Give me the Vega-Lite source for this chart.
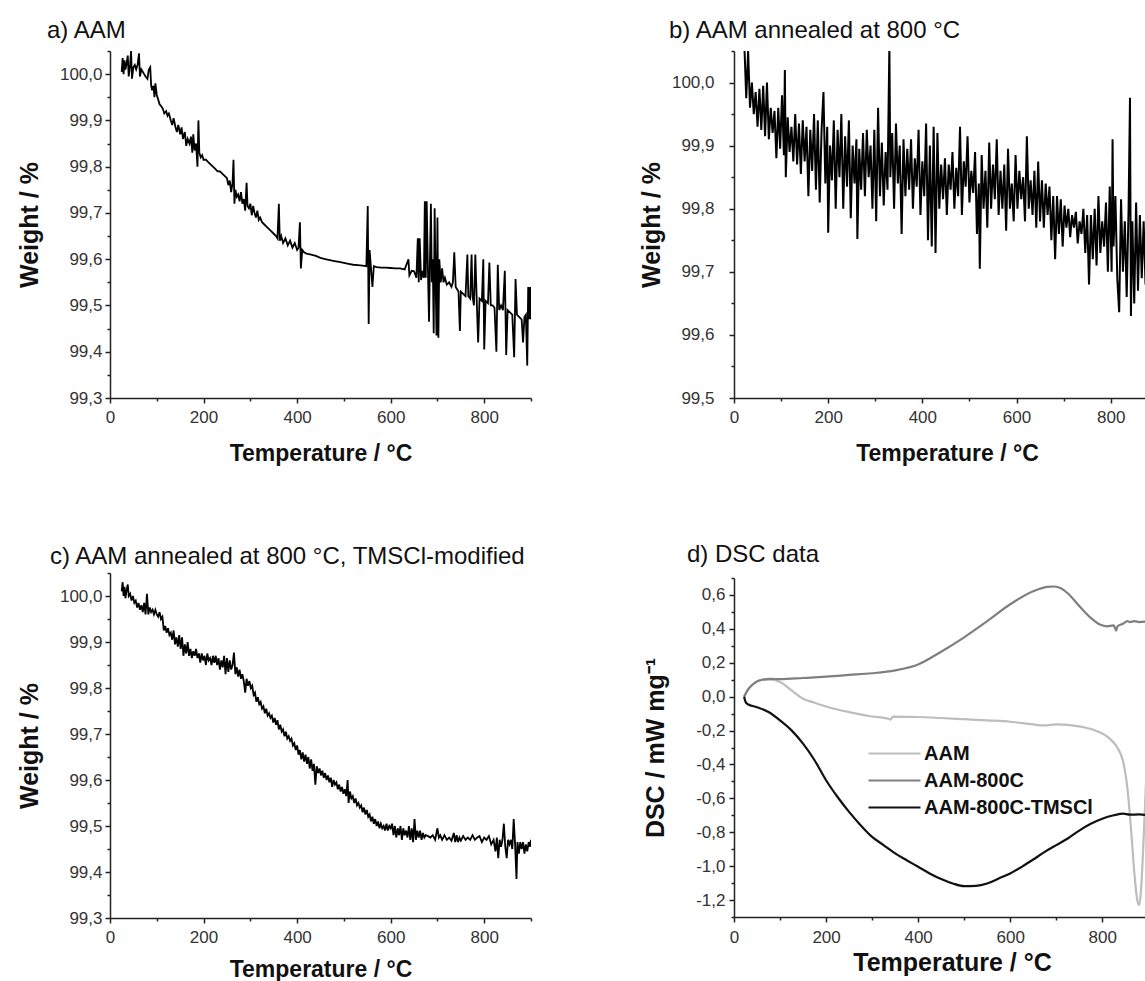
{
  "$schema": "https://vega.github.io/schema/vega-lite/v6.json",
  "padding": {"left": 17, "top": 19, "right": 0, "bottom": 0},
  "background": "white",
  "usermeta": {"embedOptions": {"actions": false}},
  "config": {
    "view": {"stroke": null},
    "font": "Liberation Sans",
    "axis": {"grid": false, "domainColor": "#222", "domainWidth": 1.5, "tickColor": "#222", "tickWidth": 1.5, "labelColor": "#333", "labelFont": "Liberation Sans", "labelFontSize": 17, "titleFont": "Liberation Sans", "titleFontWeight": "bold", "titleColor": "#111", "labelFlush": false, "labelOverlap": false},
    "title": {"font": "Liberation Sans", "fontSize": 24, "fontWeight": "normal", "color": "#111", "anchor": "start", "frame": "group"}
  },
  "datasets": {
    "a": [
      {"t":25,"w":100.005},{"t":27,"w":100.035},{"t":29,"w":100.0},{"t":31,"w":100.03},{"t":33,"w":100.01},{"t":35,"w":100.02},{"t":38,"w":100.04},{"t":40,"w":99.995},{"t":43,"w":100.02},{"t":45,"w":100.05},{"t":47,"w":99.99},{"t":50,"w":100.015},{"t":53,"w":100.02},{"t":56,"w":100.01},{"t":59,"w":100.02},{"t":62,"w":100.045},{"t":64,"w":99.995},{"t":67,"w":100.01},{"t":70,"w":100.005},{"t":73,"w":100.0},{"t":76,"w":99.995},{"t":80,"w":99.99},{"t":83,"w":100.01},{"t":86,"w":100.015},{"t":88,"w":99.975},{"t":90,"w":99.965},{"t":93,"w":99.975},{"t":95,"w":99.95},{"t":97,"w":99.98},{"t":100,"w":99.955},{"t":103,"w":99.945},{"t":106,"w":99.935},{"t":110,"w":99.93},{"t":113,"w":99.925},{"t":116,"w":99.915},{"t":120,"w":99.92},{"t":123,"w":99.91},{"t":126,"w":99.915},{"t":130,"w":99.9},{"t":133,"w":99.89},{"t":136,"w":99.905},{"t":140,"w":99.885},{"t":143,"w":99.875},{"t":146,"w":99.89},{"t":150,"w":99.87},{"t":153,"w":99.885},{"t":156,"w":99.86},{"t":160,"w":99.875},{"t":163,"w":99.845},{"t":166,"w":99.86},{"t":170,"w":99.85},{"t":173,"w":99.865},{"t":176,"w":99.83},{"t":178,"w":99.87},{"t":181,"w":99.835},{"t":184,"w":99.85},{"t":187,"w":99.8},{"t":189,"w":99.9},{"t":191,"w":99.83},{"t":194,"w":99.82},{"t":197,"w":99.825},{"t":200,"w":99.815},{"t":205,"w":99.815},{"t":210,"w":99.81},{"t":215,"w":99.805},{"t":220,"w":99.8},{"t":225,"w":99.795},{"t":230,"w":99.79},{"t":235,"w":99.79},{"t":240,"w":99.785},{"t":245,"w":99.78},{"t":250,"w":99.775},{"t":253,"w":99.76},{"t":256,"w":99.77},{"t":259,"w":99.745},{"t":262,"w":99.765},{"t":264,"w":99.815},{"t":266,"w":99.72},{"t":268,"w":99.75},{"t":271,"w":99.735},{"t":274,"w":99.74},{"t":277,"w":99.725},{"t":280,"w":99.745},{"t":283,"w":99.72},{"t":286,"w":99.73},{"t":289,"w":99.705},{"t":292,"w":99.765},{"t":294,"w":99.715},{"t":297,"w":99.71},{"t":300,"w":99.72},{"t":303,"w":99.695},{"t":306,"w":99.715},{"t":309,"w":99.7},{"t":312,"w":99.69},{"t":315,"w":99.705},{"t":318,"w":99.685},{"t":321,"w":99.69},{"t":325,"w":99.68},{"t":330,"w":99.675},{"t":335,"w":99.67},{"t":340,"w":99.665},{"t":345,"w":99.66},{"t":350,"w":99.655},{"t":355,"w":99.65},{"t":358,"w":99.645},{"t":361,"w":99.72},{"t":363,"w":99.64},{"t":366,"w":99.65},{"t":370,"w":99.635},{"t":375,"w":99.645},{"t":380,"w":99.63},{"t":385,"w":99.64},{"t":390,"w":99.625},{"t":395,"w":99.635},{"t":400,"w":99.62},{"t":403,"w":99.625},{"t":406,"w":99.68},{"t":408,"w":99.58},{"t":411,"w":99.62},{"t":415,"w":99.615},{"t":420,"w":99.612},{"t":430,"w":99.61},{"t":440,"w":99.607},{"t":450,"w":99.603},{"t":460,"w":99.6},{"t":470,"w":99.598},{"t":480,"w":99.596},{"t":490,"w":99.594},{"t":500,"w":99.592},{"t":510,"w":99.59},{"t":520,"w":99.588},{"t":530,"w":99.587},{"t":540,"w":99.586},{"t":548,"w":99.585},{"t":551,"w":99.715},{"t":553,"w":99.46},{"t":555,"w":99.62},{"t":558,"w":99.58},{"t":561,"w":99.54},{"t":564,"w":99.585},{"t":570,"w":99.583},{"t":580,"w":99.582},{"t":590,"w":99.582},{"t":600,"w":99.581},{"t":610,"w":99.58},{"t":620,"w":99.58},{"t":630,"w":99.578},{"t":638,"w":99.6},{"t":640,"w":99.565},{"t":645,"w":99.575},{"t":650,"w":99.574},{"t":655,"w":99.56},{"t":658,"w":99.645},{"t":660,"w":99.55},{"t":662,"w":99.645},{"t":665,"w":99.555},{"t":668,"w":99.575},{"t":671,"w":99.56},{"t":673,"w":99.725},{"t":675,"w":99.56},{"t":677,"w":99.725},{"t":680,"w":99.56},{"t":682,"w":99.465},{"t":684,"w":99.6},{"t":686,"w":99.72},{"t":688,"w":99.55},{"t":690,"w":99.6},{"t":692,"w":99.44},{"t":694,"w":99.71},{"t":696,"w":99.56},{"t":698,"w":99.435},{"t":700,"w":99.69},{"t":702,"w":99.43},{"t":704,"w":99.6},{"t":707,"w":99.55},{"t":710,"w":99.58},{"t":713,"w":99.55},{"t":716,"w":99.56},{"t":720,"w":99.545},{"t":725,"w":99.55},{"t":730,"w":99.54},{"t":733,"w":99.55},{"t":736,"w":99.615},{"t":739,"w":99.54},{"t":742,"w":99.535},{"t":745,"w":99.53},{"t":748,"w":99.445},{"t":750,"w":99.53},{"t":755,"w":99.525},{"t":760,"w":99.52},{"t":764,"w":99.61},{"t":766,"w":99.52},{"t":770,"w":99.515},{"t":773,"w":99.61},{"t":775,"w":99.52},{"t":778,"w":99.5},{"t":781,"w":99.61},{"t":784,"w":99.51},{"t":787,"w":99.42},{"t":790,"w":99.515},{"t":795,"w":99.51},{"t":798,"w":99.6},{"t":800,"w":99.405},{"t":803,"w":99.51},{"t":808,"w":99.505},{"t":811,"w":99.593},{"t":814,"w":99.5},{"t":818,"w":99.5},{"t":822,"w":99.495},{"t":826,"w":99.4},{"t":829,"w":99.588},{"t":832,"w":99.49},{"t":836,"w":99.5},{"t":840,"w":99.49},{"t":844,"w":99.575},{"t":847,"w":99.393},{"t":850,"w":99.49},{"t":855,"w":99.485},{"t":860,"w":99.48},{"t":864,"w":99.388},{"t":867,"w":99.557},{"t":870,"w":99.48},{"t":875,"w":99.475},{"t":880,"w":99.47},{"t":883,"w":99.42},{"t":886,"w":99.475},{"t":889,"w":99.48},{"t":892,"w":99.37},{"t":894,"w":99.54},{"t":896,"w":99.47},{"t":898,"w":99.54},{"t":900,"w":99.47}
    ],
    "b": [
      {"t":22,"w":100.06},{"t":26,"w":99.975},{"t":30,"w":100.05},{"t":34,"w":99.96},{"t":38,"w":100.0},{"t":42,"w":99.95},{"t":46,"w":99.985},{"t":50,"w":99.93},{"t":54,"w":99.99},{"t":58,"w":99.925},{"t":62,"w":99.995},{"t":66,"w":99.915},{"t":70,"w":100.0},{"t":74,"w":99.91},{"t":78,"w":99.96},{"t":82,"w":99.92},{"t":86,"w":99.955},{"t":90,"w":99.88},{"t":94,"w":99.96},{"t":98,"w":99.895},{"t":102,"w":99.98},{"t":106,"w":99.885},{"t":108,"w":100.02},{"t":110,"w":99.85},{"t":114,"w":99.945},{"t":118,"w":99.89},{"t":122,"w":99.93},{"t":126,"w":99.875},{"t":130,"w":99.95},{"t":134,"w":99.87},{"t":138,"w":99.935},{"t":142,"w":99.855},{"t":146,"w":99.94},{"t":150,"w":99.875},{"t":154,"w":99.93},{"t":158,"w":99.82},{"t":162,"w":99.925},{"t":166,"w":99.86},{"t":170,"w":99.95},{"t":174,"w":99.83},{"t":178,"w":99.94},{"t":182,"w":99.81},{"t":186,"w":99.925},{"t":190,"w":99.985},{"t":194,"w":99.84},{"t":198,"w":99.93},{"t":200,"w":99.762},{"t":204,"w":99.9},{"t":208,"w":99.845},{"t":212,"w":99.94},{"t":216,"w":99.8},{"t":220,"w":99.925},{"t":224,"w":99.85},{"t":228,"w":99.95},{"t":232,"w":99.8},{"t":236,"w":99.915},{"t":240,"w":99.835},{"t":244,"w":99.94},{"t":248,"w":99.785},{"t":252,"w":99.9},{"t":256,"w":99.84},{"t":260,"w":99.91},{"t":262,"w":99.752},{"t":266,"w":99.895},{"t":270,"w":99.83},{"t":274,"w":99.92},{"t":278,"w":99.82},{"t":282,"w":99.925},{"t":286,"w":99.85},{"t":290,"w":99.9},{"t":294,"w":99.8},{"t":298,"w":99.925},{"t":302,"w":99.78},{"t":306,"w":99.96},{"t":310,"w":99.82},{"t":314,"w":99.905},{"t":318,"w":99.805},{"t":322,"w":99.89},{"t":326,"w":99.83},{"t":330,"w":100.06},{"t":332,"w":99.85},{"t":336,"w":99.92},{"t":340,"w":99.8},{"t":344,"w":99.935},{"t":348,"w":99.84},{"t":352,"w":99.9},{"t":356,"w":99.76},{"t":360,"w":99.91},{"t":364,"w":99.82},{"t":368,"w":99.895},{"t":372,"w":99.83},{"t":376,"w":99.91},{"t":380,"w":99.8},{"t":384,"w":99.88},{"t":388,"w":99.835},{"t":392,"w":99.925},{"t":396,"w":99.79},{"t":400,"w":99.875},{"t":404,"w":99.82},{"t":408,"w":99.935},{"t":412,"w":99.75},{"t":416,"w":99.9},{"t":420,"w":99.74},{"t":424,"w":99.93},{"t":428,"w":99.73},{"t":432,"w":99.92},{"t":436,"w":99.8},{"t":440,"w":99.87},{"t":444,"w":99.815},{"t":448,"w":99.88},{"t":452,"w":99.79},{"t":456,"w":99.87},{"t":460,"w":99.83},{"t":464,"w":99.89},{"t":468,"w":99.8},{"t":472,"w":99.865},{"t":476,"w":99.82},{"t":480,"w":99.93},{"t":484,"w":99.79},{"t":488,"w":99.875},{"t":492,"w":99.835},{"t":496,"w":99.915},{"t":500,"w":99.81},{"t":504,"w":99.86},{"t":508,"w":99.825},{"t":512,"w":99.89},{"t":516,"w":99.76},{"t":520,"w":99.84},{"t":522,"w":99.705},{"t":526,"w":99.885},{"t":530,"w":99.8},{"t":534,"w":99.86},{"t":538,"w":99.77},{"t":542,"w":99.905},{"t":546,"w":99.8},{"t":550,"w":99.87},{"t":554,"w":99.815},{"t":558,"w":99.91},{"t":562,"w":99.79},{"t":566,"w":99.86},{"t":570,"w":99.8},{"t":574,"w":99.87},{"t":578,"w":99.765},{"t":582,"w":99.895},{"t":586,"w":99.8},{"t":590,"w":99.84},{"t":594,"w":99.78},{"t":598,"w":99.885},{"t":602,"w":99.8},{"t":606,"w":99.86},{"t":610,"w":99.815},{"t":614,"w":99.85},{"t":618,"w":99.78},{"t":622,"w":99.915},{"t":626,"w":99.8},{"t":630,"w":99.845},{"t":634,"w":99.79},{"t":638,"w":99.86},{"t":642,"w":99.77},{"t":646,"w":99.875},{"t":650,"w":99.78},{"t":654,"w":99.845},{"t":658,"w":99.77},{"t":662,"w":99.84},{"t":666,"w":99.79},{"t":670,"w":99.835},{"t":674,"w":99.75},{"t":678,"w":99.82},{"t":682,"w":99.72},{"t":686,"w":99.82},{"t":690,"w":99.76},{"t":694,"w":99.815},{"t":698,"w":99.74},{"t":702,"w":99.805},{"t":706,"w":99.77},{"t":710,"w":99.8},{"t":714,"w":99.755},{"t":718,"w":99.79},{"t":722,"w":99.77},{"t":726,"w":99.795},{"t":730,"w":99.745},{"t":734,"w":99.78},{"t":738,"w":99.76},{"t":742,"w":99.8},{"t":746,"w":99.73},{"t":750,"w":99.79},{"t":754,"w":99.68},{"t":758,"w":99.79},{"t":762,"w":99.72},{"t":766,"w":99.8},{"t":770,"w":99.71},{"t":774,"w":99.82},{"t":778,"w":99.73},{"t":782,"w":99.78},{"t":786,"w":99.74},{"t":790,"w":99.81},{"t":794,"w":99.7},{"t":798,"w":99.835},{"t":802,"w":99.7},{"t":804,"w":99.91},{"t":806,"w":99.74},{"t":810,"w":99.82},{"t":814,"w":99.69},{"t":818,"w":99.636},{"t":822,"w":99.815},{"t":826,"w":99.7},{"t":830,"w":99.78},{"t":834,"w":99.66},{"t":838,"w":99.8},{"t":841,"w":99.976},{"t":843,"w":99.63},{"t":846,"w":99.78},{"t":850,"w":99.65},{"t":854,"w":99.81},{"t":858,"w":99.67},{"t":862,"w":99.79},{"t":866,"w":99.69},{"t":870,"w":99.78},{"t":874,"w":99.68},{"t":878,"w":99.76},{"t":882,"w":99.67},{"t":886,"w":99.79},{"t":890,"w":99.7},{"t":894,"w":99.91},{"t":897,"w":99.66},{"t":900,"w":99.74}
    ],
    "c": [
      {"t":25,"w":100.01},{"t":27,"w":100.03},{"t":29,"w":100.0},{"t":31,"w":100.02},{"t":33,"w":99.995},{"t":35,"w":100.01},{"t":38,"w":100.025},{"t":40,"w":100.0},{"t":43,"w":100.005},{"t":46,"w":99.99},{"t":49,"w":100.0},{"t":52,"w":99.985},{"t":55,"w":99.99},{"t":58,"w":99.975},{"t":61,"w":99.985},{"t":64,"w":99.97},{"t":67,"w":99.98},{"t":70,"w":99.965},{"t":73,"w":99.985},{"t":76,"w":99.96},{"t":79,"w":100.005},{"t":82,"w":99.96},{"t":85,"w":99.975},{"t":88,"w":99.965},{"t":91,"w":99.97},{"t":94,"w":99.96},{"t":97,"w":99.97},{"t":100,"w":99.96},{"t":103,"w":99.955},{"t":106,"w":99.965},{"t":109,"w":99.95},{"t":112,"w":99.955},{"t":115,"w":99.925},{"t":118,"w":99.935},{"t":121,"w":99.92},{"t":124,"w":99.93},{"t":127,"w":99.915},{"t":130,"w":99.92},{"t":133,"w":99.905},{"t":136,"w":99.925},{"t":139,"w":99.895},{"t":142,"w":99.91},{"t":145,"w":99.89},{"t":148,"w":99.915},{"t":151,"w":99.885},{"t":154,"w":99.91},{"t":157,"w":99.87},{"t":160,"w":99.895},{"t":163,"w":99.875},{"t":166,"w":99.9},{"t":169,"w":99.87},{"t":172,"w":99.885},{"t":175,"w":99.865},{"t":178,"w":99.88},{"t":181,"w":99.87},{"t":184,"w":99.885},{"t":187,"w":99.865},{"t":190,"w":99.875},{"t":193,"w":99.855},{"t":196,"w":99.875},{"t":199,"w":99.86},{"t":202,"w":99.87},{"t":205,"w":99.85},{"t":208,"w":99.875},{"t":211,"w":99.86},{"t":214,"w":99.865},{"t":217,"w":99.85},{"t":220,"w":99.87},{"t":223,"w":99.855},{"t":226,"w":99.87},{"t":229,"w":99.85},{"t":232,"w":99.865},{"t":235,"w":99.84},{"t":238,"w":99.86},{"t":241,"w":99.845},{"t":244,"w":99.87},{"t":247,"w":99.83},{"t":250,"w":99.865},{"t":253,"w":99.835},{"t":256,"w":99.86},{"t":259,"w":99.84},{"t":262,"w":99.85},{"t":265,"w":99.877},{"t":268,"w":99.83},{"t":271,"w":99.845},{"t":274,"w":99.825},{"t":277,"w":99.84},{"t":280,"w":99.82},{"t":283,"w":99.83},{"t":286,"w":99.815},{"t":289,"w":99.79},{"t":292,"w":99.82},{"t":295,"w":99.805},{"t":298,"w":99.815},{"t":301,"w":99.8},{"t":304,"w":99.805},{"t":307,"w":99.785},{"t":310,"w":99.79},{"t":313,"w":99.77},{"t":316,"w":99.78},{"t":319,"w":99.765},{"t":322,"w":99.77},{"t":325,"w":99.755},{"t":328,"w":99.76},{"t":331,"w":99.745},{"t":334,"w":99.755},{"t":337,"w":99.74},{"t":340,"w":99.745},{"t":343,"w":99.735},{"t":346,"w":99.74},{"t":349,"w":99.725},{"t":352,"w":99.735},{"t":355,"w":99.72},{"t":358,"w":99.73},{"t":361,"w":99.71},{"t":364,"w":99.72},{"t":367,"w":99.705},{"t":370,"w":99.71},{"t":373,"w":99.695},{"t":376,"w":99.705},{"t":379,"w":99.69},{"t":382,"w":99.695},{"t":385,"w":99.685},{"t":388,"w":99.69},{"t":391,"w":99.675},{"t":394,"w":99.68},{"t":397,"w":99.665},{"t":400,"w":99.675},{"t":403,"w":99.655},{"t":406,"w":99.665},{"t":409,"w":99.645},{"t":412,"w":99.66},{"t":415,"w":99.64},{"t":418,"w":99.655},{"t":421,"w":99.635},{"t":424,"w":99.65},{"t":427,"w":99.625},{"t":430,"w":99.645},{"t":433,"w":99.62},{"t":436,"w":99.635},{"t":439,"w":99.59},{"t":442,"w":99.63},{"t":445,"w":99.615},{"t":448,"w":99.625},{"t":451,"w":99.61},{"t":454,"w":99.62},{"t":457,"w":99.605},{"t":460,"w":99.615},{"t":463,"w":99.6},{"t":466,"w":99.61},{"t":469,"w":99.595},{"t":472,"w":99.605},{"t":475,"w":99.585},{"t":478,"w":99.6},{"t":481,"w":99.59},{"t":484,"w":99.595},{"t":487,"w":99.58},{"t":490,"w":99.59},{"t":493,"w":99.575},{"t":496,"w":99.585},{"t":499,"w":99.57},{"t":502,"w":99.58},{"t":505,"w":99.565},{"t":508,"w":99.6},{"t":510,"w":99.55},{"t":513,"w":99.575},{"t":516,"w":99.56},{"t":519,"w":99.565},{"t":522,"w":99.55},{"t":525,"w":99.56},{"t":528,"w":99.545},{"t":531,"w":99.55},{"t":534,"w":99.54},{"t":537,"w":99.545},{"t":540,"w":99.53},{"t":543,"w":99.54},{"t":546,"w":99.525},{"t":549,"w":99.535},{"t":552,"w":99.52},{"t":555,"w":99.525},{"t":558,"w":99.51},{"t":561,"w":99.52},{"t":564,"w":99.505},{"t":567,"w":99.515},{"t":570,"w":99.5},{"t":573,"w":99.51},{"t":576,"w":99.495},{"t":579,"w":99.505},{"t":582,"w":99.495},{"t":585,"w":99.5},{"t":588,"w":99.49},{"t":591,"w":99.505},{"t":594,"w":99.49},{"t":597,"w":99.5},{"t":600,"w":99.495},{"t":603,"w":99.505},{"t":606,"w":99.48},{"t":609,"w":99.5},{"t":612,"w":99.475},{"t":615,"w":99.495},{"t":618,"w":99.48},{"t":621,"w":99.5},{"t":624,"w":99.47},{"t":627,"w":99.495},{"t":630,"w":99.48},{"t":633,"w":99.49},{"t":636,"w":99.475},{"t":639,"w":99.5},{"t":642,"w":99.47},{"t":645,"w":99.495},{"t":648,"w":99.465},{"t":651,"w":99.515},{"t":654,"w":99.47},{"t":657,"w":99.49},{"t":660,"w":99.475},{"t":663,"w":99.49},{"t":666,"w":99.47},{"t":669,"w":99.485},{"t":672,"w":99.475},{"t":675,"w":99.48},{"t":680,"w":99.478},{"t":685,"w":99.475},{"t":690,"w":99.48},{"t":695,"w":99.47},{"t":700,"w":99.495},{"t":703,"w":99.475},{"t":706,"w":99.48},{"t":710,"w":99.47},{"t":715,"w":99.48},{"t":720,"w":99.47},{"t":725,"w":99.475},{"t":730,"w":99.468},{"t":735,"w":99.485},{"t":738,"w":99.465},{"t":741,"w":99.48},{"t":744,"w":99.465},{"t":747,"w":99.475},{"t":750,"w":99.468},{"t":755,"w":99.478},{"t":760,"w":99.47},{"t":765,"w":99.475},{"t":770,"w":99.47},{"t":775,"w":99.48},{"t":780,"w":99.47},{"t":785,"w":99.475},{"t":790,"w":99.478},{"t":795,"w":99.465},{"t":800,"w":99.475},{"t":805,"w":99.47},{"t":810,"w":99.478},{"t":815,"w":99.46},{"t":820,"w":99.47},{"t":824,"w":99.445},{"t":827,"w":99.475},{"t":830,"w":99.43},{"t":833,"w":99.47},{"t":836,"w":99.455},{"t":839,"w":99.47},{"t":842,"w":99.505},{"t":845,"w":99.455},{"t":848,"w":99.43},{"t":851,"w":99.47},{"t":854,"w":99.46},{"t":857,"w":99.47},{"t":860,"w":99.45},{"t":863,"w":99.515},{"t":866,"w":99.46},{"t":869,"w":99.385},{"t":871,"w":99.465},{"t":874,"w":99.44},{"t":877,"w":99.465},{"t":880,"w":99.45},{"t":883,"w":99.465},{"t":886,"w":99.44},{"t":889,"w":99.46},{"t":892,"w":99.445},{"t":895,"w":99.465},{"t":898,"w":99.455},{"t":900,"w":99.47}
    ],
    "d": [
      {"s":"AAM","t":22,"v":0.0},{"s":"AAM","t":30,"v":0.04},{"s":"AAM","t":40,"v":0.07},{"s":"AAM","t":50,"v":0.09},{"s":"AAM","t":65,"v":0.1},{"s":"AAM","t":80,"v":0.1},{"s":"AAM","t":100,"v":0.086},{"s":"AAM","t":125,"v":0.037},{"s":"AAM","t":150,"v":-0.012},{"s":"AAM","t":175,"v":-0.036},{"s":"AAM","t":200,"v":-0.058},{"s":"AAM","t":250,"v":-0.091},{"s":"AAM","t":300,"v":-0.117},{"s":"AAM","t":335,"v":-0.13},{"s":"AAM","t":340,"v":-0.136},{"s":"AAM","t":345,"v":-0.118},{"s":"AAM","t":400,"v":-0.12},{"s":"AAM","t":450,"v":-0.126},{"s":"AAM","t":500,"v":-0.133},{"s":"AAM","t":550,"v":-0.14},{"s":"AAM","t":600,"v":-0.148},{"s":"AAM","t":650,"v":-0.164},{"s":"AAM","t":675,"v":-0.17},{"s":"AAM","t":700,"v":-0.163},{"s":"AAM","t":750,"v":-0.175},{"s":"AAM","t":790,"v":-0.205},{"s":"AAM","t":815,"v":-0.245},{"s":"AAM","t":830,"v":-0.29},{"s":"AAM","t":845,"v":-0.38},{"s":"AAM","t":855,"v":-0.55},{"s":"AAM","t":863,"v":-0.8},{"s":"AAM","t":870,"v":-1.05},{"s":"AAM","t":876,"v":-1.2},{"s":"AAM","t":880,"v":-1.23},{"s":"AAM","t":884,"v":-1.15},{"s":"AAM","t":888,"v":-0.95},{"s":"AAM","t":892,"v":-0.7},{"s":"AAM","t":896,"v":-0.45},{"s":"AAM","t":900,"v":-0.3},
      {"s":"AAM-800C","t":22,"v":0.0},{"s":"AAM-800C","t":30,"v":0.04},{"s":"AAM-800C","t":40,"v":0.07},{"s":"AAM-800C","t":50,"v":0.09},{"s":"AAM-800C","t":62,"v":0.1},{"s":"AAM-800C","t":80,"v":0.105},{"s":"AAM-800C","t":100,"v":0.103},{"s":"AAM-800C","t":150,"v":0.11},{"s":"AAM-800C","t":200,"v":0.118},{"s":"AAM-800C","t":250,"v":0.128},{"s":"AAM-800C","t":300,"v":0.138},{"s":"AAM-800C","t":350,"v":0.155},{"s":"AAM-800C","t":400,"v":0.19},{"s":"AAM-800C","t":450,"v":0.265},{"s":"AAM-800C","t":500,"v":0.35},{"s":"AAM-800C","t":550,"v":0.445},{"s":"AAM-800C","t":600,"v":0.545},{"s":"AAM-800C","t":650,"v":0.622},{"s":"AAM-800C","t":680,"v":0.648},{"s":"AAM-800C","t":695,"v":0.65},{"s":"AAM-800C","t":710,"v":0.64},{"s":"AAM-800C","t":725,"v":0.61},{"s":"AAM-800C","t":750,"v":0.535},{"s":"AAM-800C","t":775,"v":0.465},{"s":"AAM-800C","t":795,"v":0.425},{"s":"AAM-800C","t":810,"v":0.415},{"s":"AAM-800C","t":825,"v":0.42},{"s":"AAM-800C","t":830,"v":0.39},{"s":"AAM-800C","t":833,"v":0.415},{"s":"AAM-800C","t":845,"v":0.43},{"s":"AAM-800C","t":855,"v":0.445},{"s":"AAM-800C","t":860,"v":0.44},{"s":"AAM-800C","t":870,"v":0.445},{"s":"AAM-800C","t":880,"v":0.44},{"s":"AAM-800C","t":900,"v":0.445},
      {"s":"AAM-800C-TMSCl","t":22,"v":0.0},{"s":"AAM-800C-TMSCl","t":25,"v":-0.03},{"s":"AAM-800C-TMSCl","t":30,"v":-0.045},{"s":"AAM-800C-TMSCl","t":50,"v":-0.062},{"s":"AAM-800C-TMSCl","t":75,"v":-0.091},{"s":"AAM-800C-TMSCl","t":100,"v":-0.14},{"s":"AAM-800C-TMSCl","t":125,"v":-0.199},{"s":"AAM-800C-TMSCl","t":150,"v":-0.277},{"s":"AAM-800C-TMSCl","t":175,"v":-0.375},{"s":"AAM-800C-TMSCl","t":200,"v":-0.493},{"s":"AAM-800C-TMSCl","t":225,"v":-0.592},{"s":"AAM-800C-TMSCl","t":250,"v":-0.68},{"s":"AAM-800C-TMSCl","t":275,"v":-0.758},{"s":"AAM-800C-TMSCl","t":300,"v":-0.827},{"s":"AAM-800C-TMSCl","t":325,"v":-0.876},{"s":"AAM-800C-TMSCl","t":350,"v":-0.925},{"s":"AAM-800C-TMSCl","t":375,"v":-0.965},{"s":"AAM-800C-TMSCl","t":400,"v":-1.004},{"s":"AAM-800C-TMSCl","t":425,"v":-1.043},{"s":"AAM-800C-TMSCl","t":450,"v":-1.076},{"s":"AAM-800C-TMSCl","t":475,"v":-1.102},{"s":"AAM-800C-TMSCl","t":500,"v":-1.118},{"s":"AAM-800C-TMSCl","t":525,"v":-1.116},{"s":"AAM-800C-TMSCl","t":550,"v":-1.102},{"s":"AAM-800C-TMSCl","t":575,"v":-1.073},{"s":"AAM-800C-TMSCl","t":600,"v":-1.043},{"s":"AAM-800C-TMSCl","t":625,"v":-1.004},{"s":"AAM-800C-TMSCl","t":650,"v":-0.961},{"s":"AAM-800C-TMSCl","t":675,"v":-0.916},{"s":"AAM-800C-TMSCl","t":700,"v":-0.876},{"s":"AAM-800C-TMSCl","t":725,"v":-0.837},{"s":"AAM-800C-TMSCl","t":750,"v":-0.79},{"s":"AAM-800C-TMSCl","t":775,"v":-0.75},{"s":"AAM-800C-TMSCl","t":800,"v":-0.72},{"s":"AAM-800C-TMSCl","t":825,"v":-0.7},{"s":"AAM-800C-TMSCl","t":845,"v":-0.69},{"s":"AAM-800C-TMSCl","t":860,"v":-0.696},{"s":"AAM-800C-TMSCl","t":880,"v":-0.695},{"s":"AAM-800C-TMSCl","t":900,"v":-0.7}
    ]
  },
  "spacing": 107,
  "resolve": {"scale": {"color": "independent"}, "legend": {"color": "independent"}},
  "hconcat": [
    {
      "spacing": 80,
      "vconcat": [
        {
          "width": 421, "height": 347,
          "title": {"text": "a) AAM", "dx": -63, "offset": -1},
          "data": {"name": "a"},
          "mark": {"type": "line", "color": "#000", "strokeWidth": 1.8, "clip": true},
          "encoding": {
            "x": {"field": "t", "type": "quantitative", "scale": {"domain": [0, 900], "nice": false, "zero": false},
              "axis": {"title": "Temperature / °C", "titleFontSize": 23, "values": [0,100,200,300,400,500,600,700,800,900], "labelExpr": "datum.value % 200 === 0 ? datum.label : ''", "tickSize": {"condition": {"test": "datum.value % 200 !== 0", "value": 3}, "value": 5}, "labelPadding": 6, "titlePadding": 17}},
            "y": {"field": "w", "type": "quantitative", "scale": {"domain": [99.3, 100.05], "nice": false, "zero": false},
              "axis": {"title": "Weight / %", "titleFontSize": 25, "values": [99.3,99.35,99.4,99.45,99.5,99.55,99.6,99.65,99.7,99.75,99.8,99.85,99.9,99.95,100,100.05], "labelExpr": "abs(datum.value*10 - round(datum.value*10)) < 0.01 ? replace(format(datum.value, '.1f'), '.', ',') : ''", "tickSize": {"condition": {"test": "abs(datum.value*10 - round(datum.value*10)) > 0.01", "value": 3}, "value": 5}, "labelPadding": 3, "titlePadding": 17}}
          }
        },
        {
          "width": 421, "height": 345,
          "title": {"text": "c) AAM annealed at 800 °C, TMSCl-modified", "dx": -60, "offset": -5},
          "data": {"name": "c"},
          "mark": {"type": "line", "color": "#000", "strokeWidth": 1.8, "clip": true},
          "encoding": {
            "x": {"field": "t", "type": "quantitative", "scale": {"domain": [0, 900], "nice": false, "zero": false},
              "axis": {"title": "Temperature / °C", "titleFontSize": 23, "values": [0,100,200,300,400,500,600,700,800,900], "labelExpr": "datum.value % 200 === 0 ? datum.label : ''", "tickSize": {"condition": {"test": "datum.value % 200 !== 0", "value": 3}, "value": 5}, "labelPadding": 6, "titlePadding": 13}},
            "y": {"field": "w", "type": "quantitative", "scale": {"domain": [99.3, 100.05], "nice": false, "zero": false},
              "axis": {"title": "Weight / %", "titleFontSize": 25, "values": [99.3,99.35,99.4,99.45,99.5,99.55,99.6,99.65,99.7,99.75,99.8,99.85,99.9,99.95,100,100.05], "labelExpr": "abs(datum.value*10 - round(datum.value*10)) < 0.01 ? replace(format(datum.value, '.1f'), '.', ',') : ''", "tickSize": {"condition": {"test": "abs(datum.value*10 - round(datum.value*10)) > 0.01", "value": 3}, "value": 5}, "labelPadding": 3, "titlePadding": 17}}
          }
        }
      ]
    },
    {
      "spacing": 78,
      "resolve": {"scale": {"color": "independent"}, "legend": {"color": "independent"}},
      "vconcat": [
        {
          "width": 412, "height": 347,
          "title": {"text": "b) AAM annealed at 800 °C", "dx": -65, "offset": -1},
          "data": {"name": "b"},
          "mark": {"type": "line", "color": "#000", "strokeWidth": 2, "clip": true},
          "encoding": {
            "x": {"field": "t", "type": "quantitative", "scale": {"domain": [0, 875], "nice": false, "zero": false},
              "axis": {"title": "Temperature / °C", "titleFontSize": 23, "titleX": 213, "values": [0,100,200,300,400,500,600,700,800], "labelExpr": "datum.value % 200 === 0 ? datum.label : ''", "tickSize": {"condition": {"test": "datum.value % 200 !== 0", "value": 3}, "value": 5}, "labelPadding": 6, "titlePadding": 17}},
            "y": {"field": "w", "type": "quantitative", "scale": {"domain": [99.5, 100.05], "nice": false, "zero": false},
              "axis": {"title": "Weight / %", "titleFontSize": 25, "values": [99.5,99.55,99.6,99.65,99.7,99.75,99.8,99.85,99.9,99.95,100,100.05], "labelExpr": "abs(datum.value*10 - round(datum.value*10)) < 0.01 ? replace(format(datum.value, '.1f'), '.', ',') : ''", "tickSize": {"condition": {"test": "abs(datum.value*10 - round(datum.value*10)) > 0.01", "value": 3}, "value": 5}, "labelPadding": 15, "titlePadding": 7}}
          }
        },
        {
          "width": 412, "height": 339,
          "title": {"text": "d) DSC data", "dx": -47, "offset": 2},
          "data": {"name": "d"},
          "mark": {"type": "line", "strokeWidth": 2.2, "clip": true, "interpolate": "monotone"},
          "encoding": {
            "x": {"field": "t", "type": "quantitative", "scale": {"domain": [0, 895], "nice": false, "zero": false},
              "axis": {"title": "Temperature / °C", "titleFontSize": 25, "titleX": 218, "values": [0,100,200,300,400,500,600,700,800], "labelExpr": "datum.value % 200 === 0 ? datum.label : ''", "tickSize": {"condition": {"test": "datum.value % 200 !== 0", "value": 3}, "value": 5}, "labelPadding": 7, "titlePadding": 5}},
            "y": {"field": "v", "type": "quantitative", "scale": {"domain": [-1.3, 0.7], "nice": false, "zero": false},
              "axis": {"title": "DSC / mW mg⁻¹", "titleFontSize": 25, "values": [-1.3,-1.2,-1.1,-1,-0.9,-0.8,-0.7,-0.6,-0.5,-0.4,-0.3,-0.2,-0.1,0,0.1,0.2,0.3,0.4,0.5,0.6,0.7], "labelExpr": "abs(datum.value*5 - round(datum.value*5)) < 0.01 ? replace(replace(format(datum.value, '.1f'), '.', ','), '\u2212', '-') : ''", "tickSize": {"condition": {"test": "abs(datum.value*5 - round(datum.value*5)) > 0.01", "value": 3}, "value": 5}, "labelPadding": 4, "titlePadding": 27}},
            "color": {"field": "s", "type": "nominal", "scale": {"domain": ["AAM", "AAM-800C", "AAM-800C-TMSCl"], "range": ["#bdbdbd", "#7f7f7f", "#111111"]},
              "legend": {"title": null, "orient": "none", "legendX": 149, "legendY": 164, "padding": 0, "labelFont": "Liberation Sans", "labelFontSize": 20, "labelFontWeight": "bold", "labelColor": "#111", "labelLimit": 400, "symbolType": "M-2.6,0H2.6", "symbolSize": 400, "symbolStrokeWidth": 2.2, "rowPadding": 5, "labelOffset": 18}}
          }
        }
      ]
    }
  ]
}
